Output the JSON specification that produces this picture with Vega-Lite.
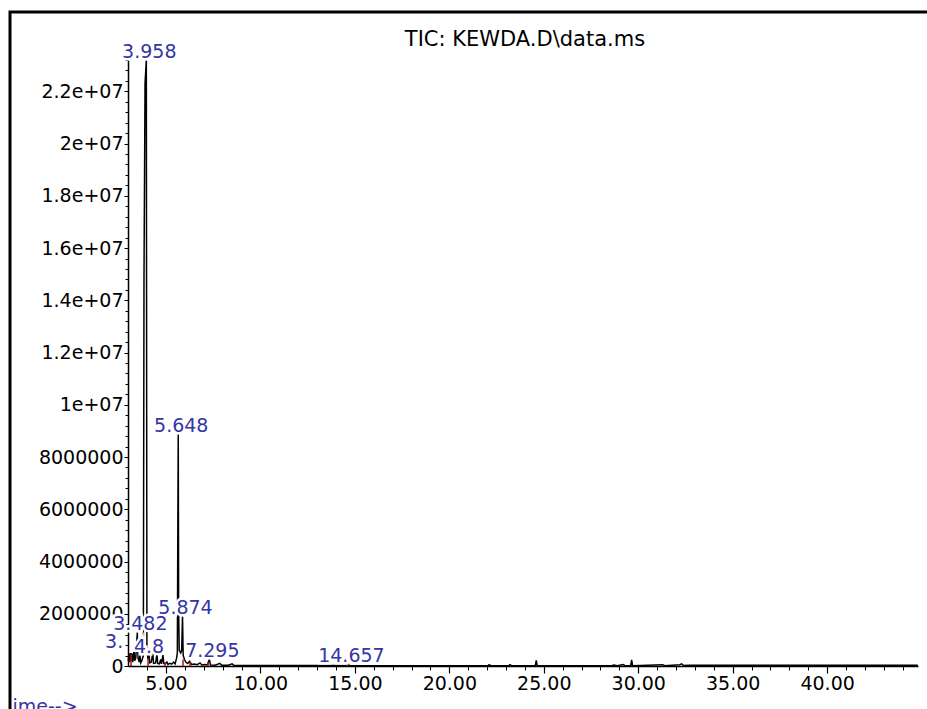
{
  "$schema": "https://vega.github.io/schema/vega-lite/v6.json",
  "width": 920,
  "height": 700,
  "autosize": {"type": "none"},
  "padding": {"left": 10, "top": 12, "right": 0, "bottom": 0},
  "background": "white",
  "config": {"view": {"stroke": "black", "strokeWidth": 3}, "font": "DejaVu Sans"},
  "title": {
    "text": "TIC: KEWDA.D\\data.ms",
    "anchor": "middle",
    "frame": "group",
    "offset": -26,
    "baseline": "middle",
    "dx": 55,
    "dy": 23,
    "font": "DejaVu Sans",
    "fontSize": 21,
    "fontWeight": "normal",
    "color": "black"
  },
  "datasets": {
    "trace": [
      {"t": 3.0, "v": 200000}, {"t": 3.05, "v": 480000}, {"t": 3.08, "v": 150000},
      {"t": 3.12, "v": 500000}, {"t": 3.15, "v": 200000}, {"t": 3.2, "v": 480000},
      {"t": 3.24, "v": 150000}, {"t": 3.28, "v": 420000}, {"t": 3.31, "v": 610000},
      {"t": 3.34, "v": 200000}, {"t": 3.4, "v": 300000}, {"t": 3.44, "v": 800000},
      {"t": 3.482, "v": 1300000}, {"t": 3.52, "v": 300000}, {"t": 3.58, "v": 150000},
      {"t": 3.62, "v": 420000}, {"t": 3.66, "v": 120000}, {"t": 3.72, "v": 200000},
      {"t": 3.8, "v": 400000}, {"t": 3.835, "v": 14900000}, {"t": 3.89, "v": 22300000},
      {"t": 3.958, "v": 23200000}, {"t": 3.99, "v": 600000}, {"t": 4.05, "v": 250000},
      {"t": 4.1, "v": 450000}, {"t": 4.14, "v": 120000}, {"t": 4.22, "v": 150000},
      {"t": 4.3, "v": 500000}, {"t": 4.34, "v": 100000}, {"t": 4.45, "v": 120000},
      {"t": 4.52, "v": 450000}, {"t": 4.56, "v": 100000}, {"t": 4.65, "v": 80000},
      {"t": 4.72, "v": 250000}, {"t": 4.76, "v": 80000}, {"t": 4.84, "v": 420000},
      {"t": 4.88, "v": 100000}, {"t": 4.95, "v": 80000}, {"t": 5.05, "v": 150000},
      {"t": 5.1, "v": 60000}, {"t": 5.2, "v": 100000}, {"t": 5.3, "v": 70000},
      {"t": 5.4, "v": 150000}, {"t": 5.48, "v": 80000}, {"t": 5.56, "v": 300000},
      {"t": 5.6, "v": 500000}, {"t": 5.625, "v": 5200000}, {"t": 5.648, "v": 8900000},
      {"t": 5.67, "v": 2000000}, {"t": 5.7, "v": 600000}, {"t": 5.78, "v": 500000},
      {"t": 5.83, "v": 600000}, {"t": 5.874, "v": 1900000}, {"t": 5.91, "v": 400000},
      {"t": 5.98, "v": 250000}, {"t": 6.05, "v": 150000}, {"t": 6.15, "v": 100000},
      {"t": 6.25, "v": 180000}, {"t": 6.35, "v": 60000}, {"t": 6.5, "v": 80000},
      {"t": 6.65, "v": 50000}, {"t": 6.8, "v": 120000}, {"t": 6.9, "v": 40000},
      {"t": 7.05, "v": 60000}, {"t": 7.2, "v": 40000}, {"t": 7.295, "v": 270000},
      {"t": 7.35, "v": 40000}, {"t": 7.6, "v": 30000}, {"t": 7.85, "v": 100000},
      {"t": 7.95, "v": 30000}, {"t": 8.3, "v": 30000}, {"t": 8.5, "v": 80000},
      {"t": 8.6, "v": 20000}, {"t": 9.0, "v": 20000}, {"t": 10.5, "v": 15000},
      {"t": 12.0, "v": 15000}, {"t": 14.6, "v": 15000}, {"t": 14.657, "v": 80000},
      {"t": 14.7, "v": 10000}, {"t": 20.0, "v": 10000}, {"t": 22.05, "v": 10000},
      {"t": 22.1, "v": 50000}, {"t": 22.2, "v": 10000}, {"t": 23.15, "v": 10000},
      {"t": 23.2, "v": 50000}, {"t": 23.3, "v": 10000}, {"t": 24.55, "v": 10000},
      {"t": 24.6, "v": 220000}, {"t": 24.65, "v": 10000}, {"t": 28.6, "v": 10000},
      {"t": 28.7, "v": 40000}, {"t": 28.9, "v": 10000}, {"t": 29.2, "v": 60000},
      {"t": 29.3, "v": 10000}, {"t": 29.6, "v": 10000}, {"t": 29.65, "v": 230000},
      {"t": 29.7, "v": 10000}, {"t": 31.3, "v": 50000}, {"t": 31.4, "v": 10000},
      {"t": 32.2, "v": 50000}, {"t": 32.3, "v": 80000}, {"t": 32.4, "v": 20000},
      {"t": 32.7, "v": 30000}, {"t": 44.8, "v": 30000}
    ],
    "marks": [
      {"t": 3.15, "v": 450000}, {"t": 4.05, "v": 300000}, {"t": 4.95, "v": 150000},
      {"t": 5.9, "v": 250000}, {"t": 6.27, "v": 150000}, {"t": 7.22, "v": 150000},
      {"t": 14.6, "v": 60000}
    ],
    "labels": [
      {"t": 3.958, "v": 23200000, "label": "3.958"},
      {"t": 5.648, "v": 8900000, "label": "5.648"},
      {"t": 5.874, "v": 1900000, "label": "5.874"},
      {"t": 3.482, "v": 1300000, "label": "3.482"},
      {"t": 7.295, "v": 270000, "label": "7.295"},
      {"t": 14.657, "v": 80000, "label": "14.657"}
    ],
    "partial": [
      {"t": 3.31, "v": 610000, "label": "3."},
      {"t": 4.84, "v": 420000, "label": "4.8"}
    ]
  },
  "resolve": {"axis": {"x": "independent", "y": "independent"}},
  "layer": [
    {
      "data": {"name": "trace"},
      "mark": {"type": "line", "color": "black", "strokeWidth": 1.5},
      "encoding": {
        "x": {
          "field": "t", "type": "quantitative",
          "scale": {"domain": [2.988, 44.81], "range": [118, 908], "nice": false, "zero": false},
          "axis": {
            "orient": "bottom", "offset": -46,
            "values": [5, 10, 15, 20, 25, 30, 35, 40],
            "format": ".2f", "grid": false,
            "domain": true, "domainColor": "black", "domainWidth": 1.5,
            "ticks": true, "tickColor": "black", "tickSize": 7, "tickWidth": 1.2,
            "labelFont": "DejaVu Sans", "labelFontSize": 19, "labelColor": "black",
            "labelPadding": 1, "labelOverlap": false, "labelFlush": false, "labelBound": false,
            "title": "ime-->", "titleFont": "DejaVu Sans", "titleFontSize": 19,
            "titleFontWeight": "normal", "titleColor": "#3535a5",
            "titleX": 2, "titleY": 46, "titleAlign": "left", "titleBaseline": "alphabetic", "titleAnchor": "start"
          }
        },
        "y": {
          "field": "v", "type": "quantitative",
          "scale": {"domain": [0, 23200000], "range": [654, 48], "nice": false, "zero": false},
          "axis": {
            "orient": "left", "offset": -118,
            "values": [0, 2000000, 4000000, 6000000, 8000000, 10000000, 12000000, 14000000, 16000000, 18000000, 20000000, 22000000],
            "labelExpr": "datum.value < 10000000 ? format(datum.value, 'd') : format(datum.value / 10000000, '.2~g') + 'e+07'",
            "grid": false,
            "domain": true, "domainColor": "black", "domainWidth": 1.5,
            "ticks": true, "tickColor": "black", "tickSize": 4, "tickWidth": 1,
            "labelFont": "DejaVu Sans", "labelFontSize": 19, "labelColor": "black",
            "labelPadding": 1, "labelOverlap": false, "labelFlush": false, "labelBound": false,
            "title": null
          }
        }
      }
    },
    {
      "data": {"name": "marks"},
      "mark": {"type": "rule", "color": "#b01818", "strokeWidth": 1.5},
      "encoding": {
        "x": {
          "field": "t", "type": "quantitative",
          "scale": {"domain": [2.988, 44.81], "range": [118, 908], "nice": false, "zero": false},
          "axis": {
            "orient": "bottom", "offset": -46,
            "values": [4, 6, 7, 8, 9, 11, 12, 13, 14, 16, 17, 18, 19, 21, 22, 23, 24, 26, 27, 28, 29, 31, 32, 33, 34, 36, 37, 38, 39, 41, 42, 43, 44],
            "labels": false, "domain": false, "grid": false,
            "ticks": true, "tickColor": "black", "tickSize": 4, "tickWidth": 1,
            "title": null
          }
        },
        "y": {
          "field": "v", "type": "quantitative",
          "scale": {"domain": [0, 23200000], "range": [654, 48], "nice": false, "zero": false},
          "axis": {
            "orient": "left", "offset": -118,
            "values": [400000, 800000, 1200000, 1600000, 2400000, 2800000, 3200000, 3600000, 4400000, 4800000, 5200000, 5600000, 6400000, 6800000, 7200000, 7600000, 8400000, 8800000, 9200000, 9600000, 10400000, 10800000, 11200000, 11600000, 12400000, 12800000, 13200000, 13600000, 14400000, 14800000, 15200000, 15600000, 16400000, 16800000, 17200000, 17600000, 18400000, 18800000, 19200000, 19600000, 20400000, 20800000, 21200000, 21600000, 22400000, 22800000, 23200000],
            "labels": false, "domain": false, "grid": false,
            "ticks": true, "tickColor": "black", "tickSize": 3, "tickWidth": 1,
            "title": null
          }
        },
        "y2": {"datum": 0}
      }
    },
    {
      "data": {"name": "labels"},
      "mark": {"type": "text", "font": "DejaVu Sans", "fontSize": 19, "fill": "white", "stroke": "white", "strokeWidth": 5, "align": "center", "baseline": "alphabetic", "dx": 3, "dy": -2},
      "encoding": {
        "x": {"field": "t", "type": "quantitative", "scale": {"domain": [2.988, 44.81], "range": [118, 908], "nice": false, "zero": false}, "axis": null},
        "y": {"field": "v", "type": "quantitative", "scale": {"domain": [0, 23200000], "range": [654, 48], "nice": false, "zero": false}, "axis": null},
        "text": {"field": "label"}
      }
    },
    {
      "data": {"name": "partial"},
      "mark": {"type": "text", "font": "DejaVu Sans", "fontSize": 19, "fill": "white", "stroke": "white", "strokeWidth": 5, "align": "left", "baseline": "alphabetic", "dx": -29, "dy": -2},
      "encoding": {
        "x": {"field": "t", "type": "quantitative", "scale": {"domain": [2.988, 44.81], "range": [118, 908], "nice": false, "zero": false}, "axis": null},
        "y": {"field": "v", "type": "quantitative", "scale": {"domain": [0, 23200000], "range": [654, 48], "nice": false, "zero": false}, "axis": null},
        "text": {"field": "label"}
      }
    },
    {
      "data": {"name": "labels"},
      "mark": {"type": "text", "font": "DejaVu Sans", "fontSize": 19, "color": "#3535a5", "align": "center", "baseline": "alphabetic", "dx": 3, "dy": -2},
      "encoding": {
        "x": {"field": "t", "type": "quantitative", "scale": {"domain": [2.988, 44.81], "range": [118, 908], "nice": false, "zero": false}, "axis": null},
        "y": {"field": "v", "type": "quantitative", "scale": {"domain": [0, 23200000], "range": [654, 48], "nice": false, "zero": false}, "axis": null},
        "text": {"field": "label"}
      }
    },
    {
      "data": {"name": "partial"},
      "mark": {"type": "text", "font": "DejaVu Sans", "fontSize": 19, "color": "#3535a5", "align": "left", "baseline": "alphabetic", "dx": -29, "dy": -2},
      "encoding": {
        "x": {"field": "t", "type": "quantitative", "scale": {"domain": [2.988, 44.81], "range": [118, 908], "nice": false, "zero": false}, "axis": null},
        "y": {"field": "v", "type": "quantitative", "scale": {"domain": [0, 23200000], "range": [654, 48], "nice": false, "zero": false}, "axis": null},
        "text": {"field": "label"}
      }
    }
  ]
}
